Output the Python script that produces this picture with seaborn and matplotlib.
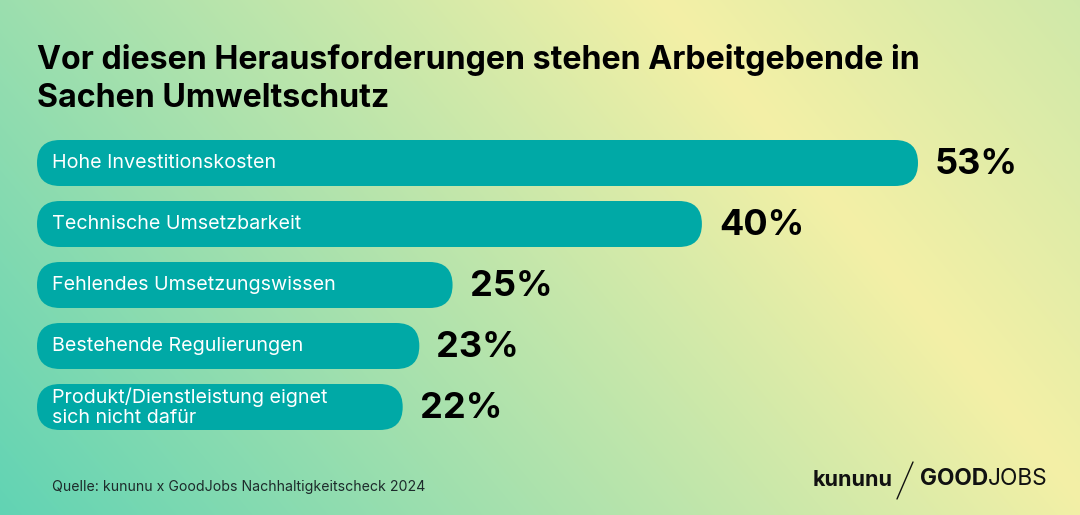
import numpy as np
import pandas as pd
import matplotlib
matplotlib.use("Agg")
import matplotlib.pyplot as plt
from matplotlib.colors import to_rgb
from matplotlib.patches import FancyBboxPatch
import seaborn as sns

# Chart data
categories = [
    "Hohe Investitionskosten",
    "Technische Umsetzbarkeit",
    "Fehlendes Umsetzungswissen",
    "Bestehende Regulierungen",
    "Produkt/Dienstleistung eignet\nsich nicht dafür",
]
values = [53, 40, 25, 23, 22]

title = "Vor diesen Herausforderungen stehen Arbeitgebende in\nSachen Umweltschutz"
source = "Quelle: kununu x GoodJobs Nachhaltigkeitscheck 2024"

df = pd.DataFrame({"Herausforderung": categories, "Anteil": values})

sns.set_style("white")
plt.rcParams["font.family"] = ["Inter", "DejaVu Sans"]

W, H = 1080, 515
fig = plt.figure(figsize=(W / 100, H / 100), dpi=100)

# Background gradient: yellow ridge on a diagonal, green towards the left/bottom
yy, xx = np.mgrid[0:H, 0:W]
d = (xx - 620) * 0.765 - (yy + 50) * 0.644
t = np.where(d < 0, np.clip(-d / 850, 0, 1), np.clip(d / 1300, 0, 1))
yellow = np.array(to_rgb("#f4f0a6"))
green = np.array(to_rgb("#5fd3b4"))
grad = yellow[None, None, :] * (1 - t[..., None]) + green[None, None, :] * t[..., None]
bg = fig.add_axes([0, 0, 1, 1])
bg.imshow(grad, extent=[0, W, H, 0], aspect="auto")
bg.set_xlim(0, W)
bg.set_ylim(H, 0)
bg.axis("off")

# Bar axes
ax_left, ax_w = 37, W - 37
row_h = 61
ax_top = 163 - row_h / 2
ax = fig.add_axes([ax_left / W, 1 - (ax_top + 5 * row_h) / H, ax_w / W, 5 * row_h / H])
ax.patch.set_alpha(0)
bar_color = "#00a9a6"
sns.barplot(data=df, x="Anteil", y="Herausforderung", color=bar_color,
            width=0.754, orient="h", ax=ax, saturation=1)
xmax = ax_w * 53 / 881
ax.set_xlim(0, xmax)
ax.set_ylim(4.5, -0.5)
ax.axis("off")

# Replace bars with pills
ux = xmax / ax_w
uy = 5 / (5 * row_h)
for p in list(ax.patches):
    x0, y0, w, h = p.get_x(), p.get_y(), p.get_width(), p.get_height()
    p.remove()
    ax.add_patch(FancyBboxPatch((x0, y0), w, h,
                                boxstyle=f"round,pad=0,rounding_size={23 * ux}",
                                mutation_aspect=uy / ux, fc=bar_color, ec="none"))

for i, (cat, v) in enumerate(zip(categories, values)):
    ax.annotate(cat, xy=(0, i), xytext=(15 * 0.72, 0), textcoords="offset points",
                va="center", ha="left", color="white", fontsize=14.2,
                linespacing=1.15)
    ax.annotate(f"{v}%", xy=(v, i), xytext=(17 * 0.72, -1), textcoords="offset points",
                va="center", ha="left", color="black", fontsize=26, fontweight="bold")

# Title and source
fig.text(37 / W, 1 - 44 / H, title, ha="left", va="top", fontsize=23.2,
         fontweight="bold", color="black", linespacing=1.3)
fig.text(52 / W, 1 - 487 / H, source, ha="left", va="center", fontsize=10.2,
         color="#1d2b2b")

# Logo
bg.text(813, 486, "kununu", ha="left", va="baseline", fontsize=15.5,
        fontweight="bold", color="#111111")
bg.plot([897, 913], [499, 462], color="#111111", lw=1.0)
good = bg.text(920, 485, "GOOD", ha="left", va="baseline", fontsize=16.3,
               fontweight="bold", color="#111111")
bg.annotate("JOBS", xy=(1, 0), xycoords=good, ha="left", va="bottom",
            fontsize=16.3, color="#111111")

fig.savefig("out.png", dpi=100)
